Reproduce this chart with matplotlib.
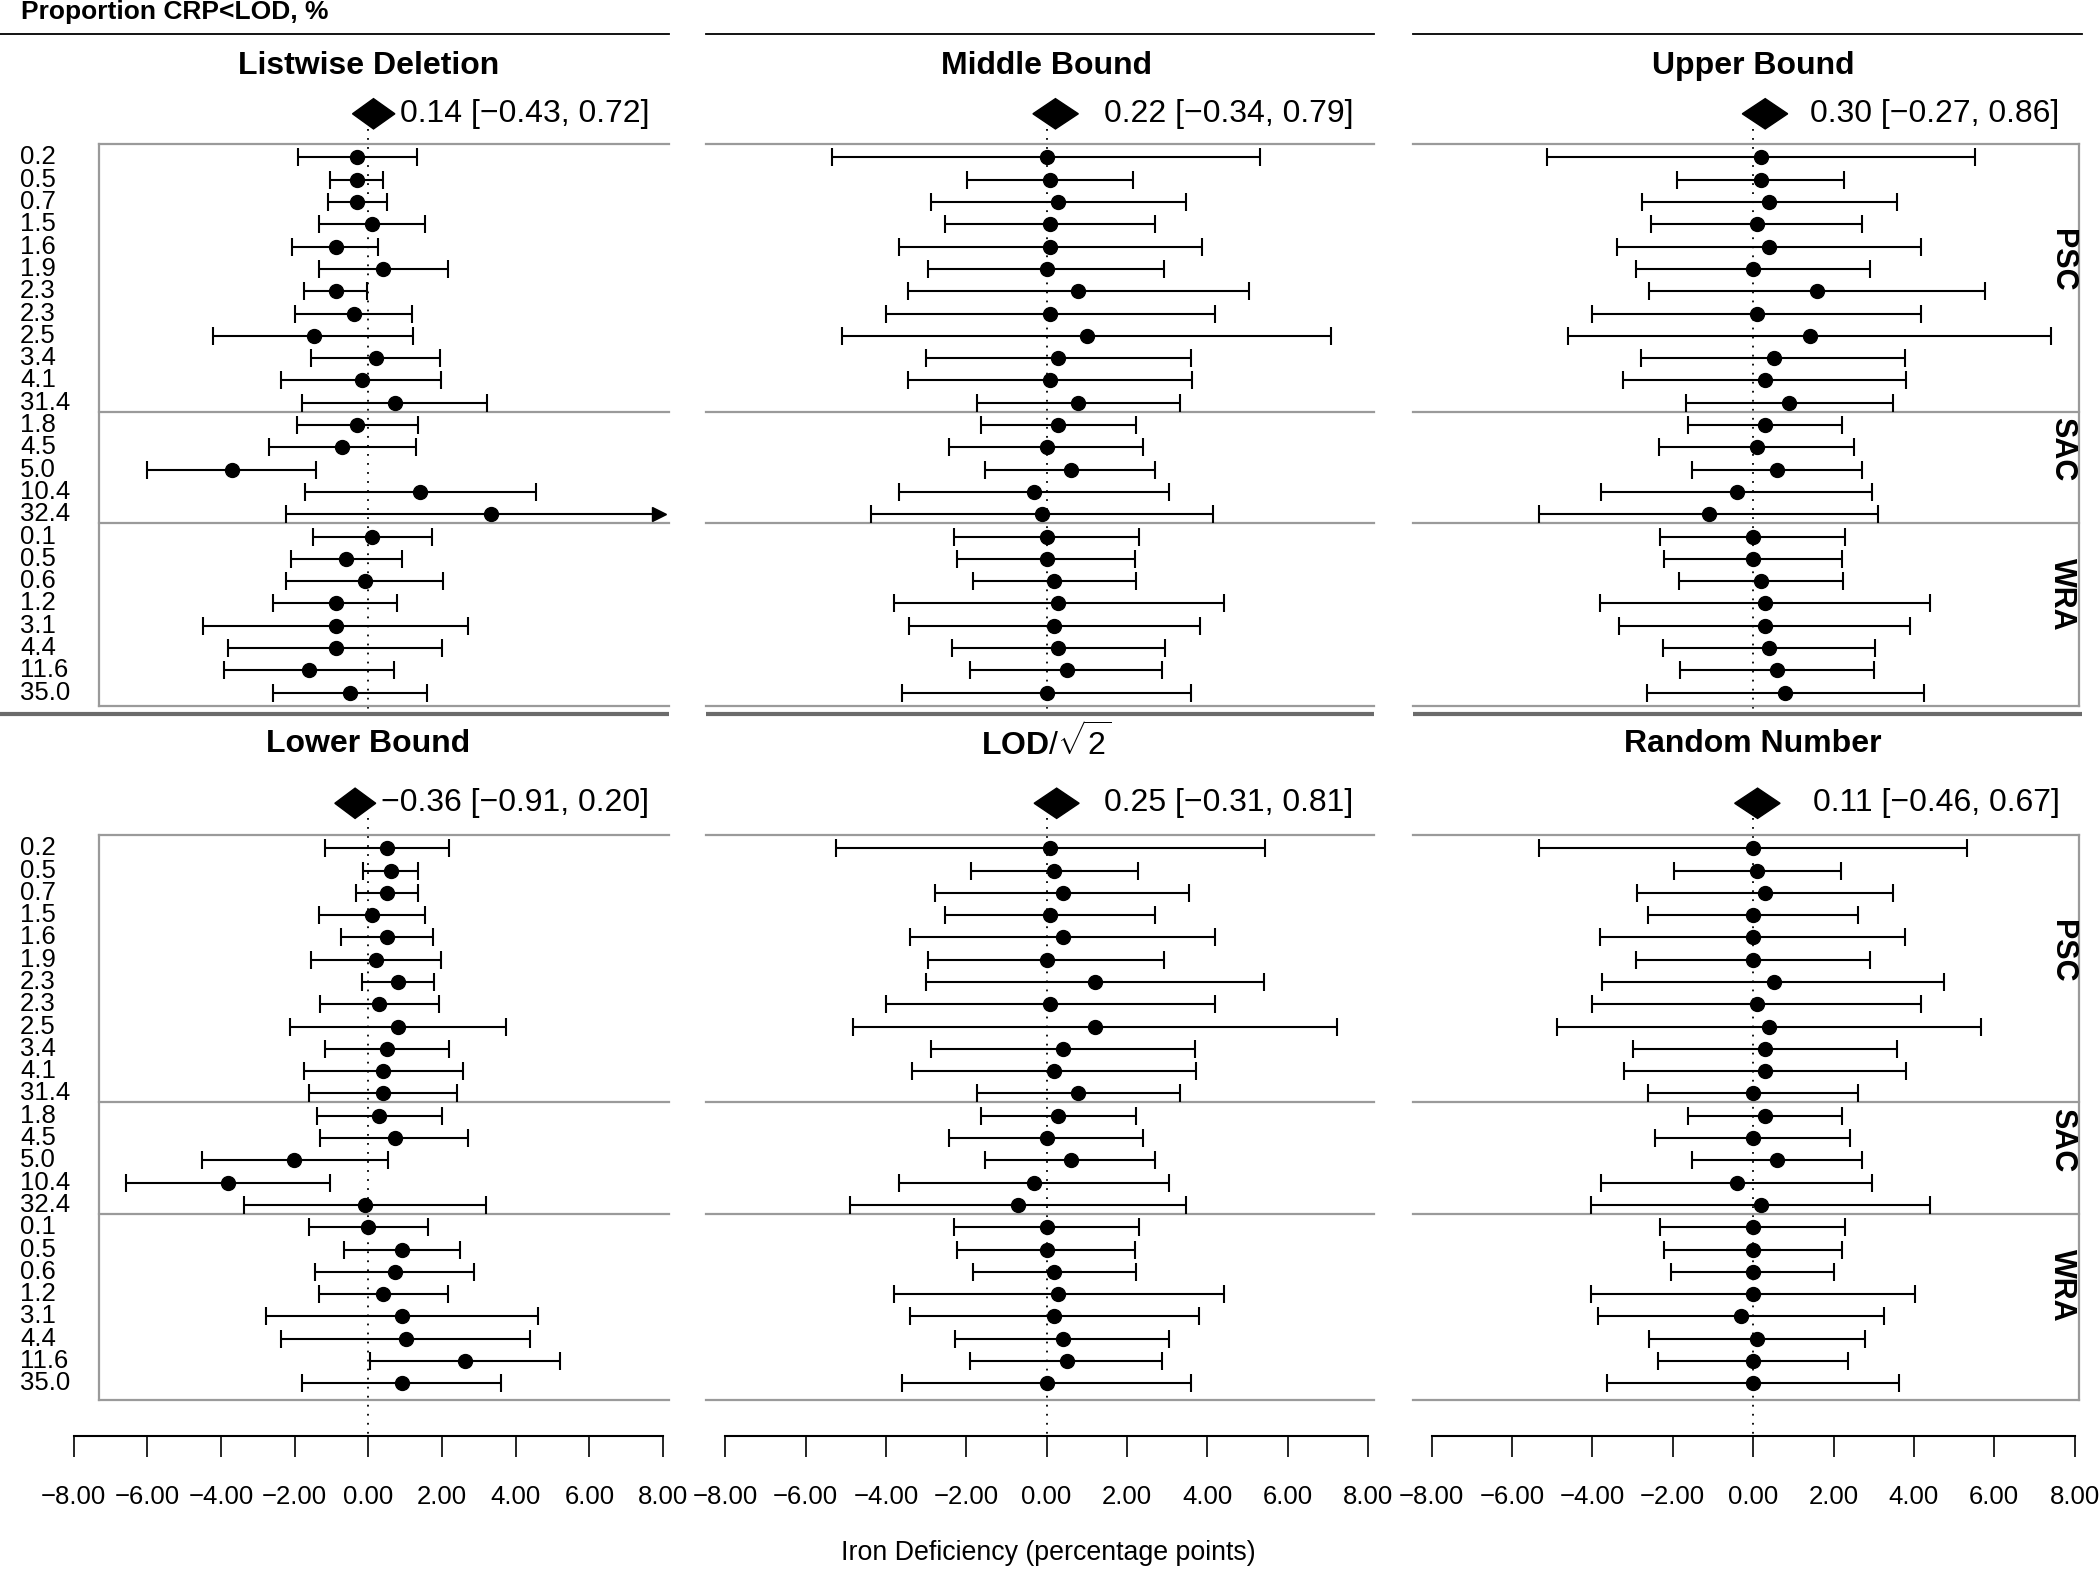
import matplotlib.pyplot as plt
from matplotlib.patches import Polygon
import numpy as np

plt.rcParams['font.family'] = ['Liberation Sans', 'DejaVu Sans']
plt.rcParams['mathtext.fontset'] = 'custom'
plt.rcParams['mathtext.rm'] = 'Liberation Sans'
plt.rcParams['mathtext.bf'] = 'Liberation Sans:bold'
plt.rcParams['mathtext.it'] = 'Liberation Sans:italic'

# ---- data ----
row_labels = ["0.2", "0.5", "0.7", "1.5", "1.6", "1.9", "2.3", "2.3", "2.5", "3.4", "4.1", "31.4",
              "1.8", "4.5", "5.0", "10.4", "32.4",
              "0.1", "0.5", "0.6", "1.2", "3.1", "4.4", "11.6", "35.0"]
groups = ["PSC", "SAC", "WRA"]
group_sizes = [12, 5, 8]

titles = ["Listwise Deletion", "Middle Bound", "Upper Bound",
          "Lower Bound", r"$\mathbf{LOD}/\sqrt{2}$", "Random Number"]

summary_est = [0.14, 0.22, 0.30, -0.36, 0.25, 0.11]
summary_lo = [-0.43, -0.34, -0.27, -0.91, -0.31, -0.46]
summary_hi = [0.72, 0.79, 0.86, 0.20, 0.81, 0.67]

listwise_est = [-0.30, -0.30, -0.30, 0.11, -0.89, 0.40, -0.89, -0.40, -1.48, 0.22, -0.18, 0.71,
                -0.30, -0.71, -3.71, 1.40, 3.32,
                0.10, -0.60, -0.09, -0.89, -0.89, -0.89, -1.61, -0.49]
listwise_lo = [-1.91, -1.03, -1.09, -1.35, -2.07, -1.35, -1.75, -2.00, -4.22, -1.55, -2.36, -1.80,
               -1.95, -2.70, -6.02, -1.72, -2.24,
               -1.51, -2.10, -2.23, -2.59, -4.49, -3.80, -3.91, -2.60]
listwise_hi = [1.31, 0.41, 0.51, 1.55, 0.27, 2.15, -0.05, 1.19, 1.22, 1.95, 1.97, 3.22,
               1.35, 1.29, -1.42, 4.54, 8.90,
               1.72, 0.91, 2.03, 0.78, 2.70, 2.00, 0.69, 1.59]

middle_est = [0.00, 0.09, 0.29, 0.09, 0.09, 0.00, 0.79, 0.09, 1.00, 0.29, 0.09, 0.79,
              0.29, 0.00, 0.60, -0.32, -0.11,
              0.00, 0.00, 0.19, 0.29, 0.19, 0.29, 0.50, 0.00]
middle_lo = [-5.33, -1.99, -2.87, -2.52, -3.68, -2.94, -3.44, -3.99, -5.10, -3.00, -3.45, -1.74,
             -1.63, -2.43, -1.53, -3.68, -4.36,
             -2.31, -2.22, -1.84, -3.81, -3.43, -2.36, -1.90, -3.61]
middle_hi = [5.31, 2.16, 3.47, 2.70, 3.87, 2.92, 5.03, 4.19, 7.09, 3.59, 3.63, 3.31,
             2.22, 2.41, 2.70, 3.05, 4.14,
             2.29, 2.19, 2.22, 4.41, 3.81, 2.95, 2.88, 3.59]

upper_est = [0.20, 0.20, 0.39, 0.09, 0.39, 0.00, 1.60, 0.09, 1.41, 0.51, 0.29, 0.90,
             0.29, 0.09, 0.60, -0.40, -1.10,
             0.00, 0.00, 0.20, 0.29, 0.29, 0.39, 0.60, 0.80]
upper_lo = [-5.14, -1.89, -2.77, -2.53, -3.40, -2.92, -2.58, -4.00, -4.62, -2.80, -3.23, -1.68,
            -1.63, -2.34, -1.52, -3.78, -5.34,
            -2.31, -2.22, -1.84, -3.82, -3.33, -2.25, -1.82, -2.65]
upper_hi = [5.53, 2.27, 3.57, 2.72, 4.18, 2.92, 5.77, 4.18, 7.42, 3.79, 3.81, 3.49,
            2.22, 2.52, 2.72, 2.96, 3.10,
            2.28, 2.20, 2.23, 4.41, 3.91, 3.04, 3.00, 4.25]

lower_est = [0.51, 0.61, 0.51, 0.10, 0.51, 0.21, 0.80, 0.30, 0.80, 0.51, 0.40, 0.40,
             0.30, 0.71, -2.01, -3.81, -0.10,
             0.00, 0.91, 0.71, 0.40, 0.91, 1.01, 2.62, 0.91]
lower_lo = [-1.18, -0.15, -0.33, -1.34, -0.74, -1.55, -0.18, -1.30, -2.13, -1.18, -1.74, -1.61,
            -1.39, -1.30, -4.53, -6.57, -3.38,
            -1.61, -0.67, -1.44, -1.34, -2.77, -2.36, 0.04, -1.79]
lower_hi = [2.19, 1.35, 1.34, 1.53, 1.75, 1.96, 1.79, 1.91, 3.75, 2.20, 2.57, 2.41,
            2.00, 2.71, 0.52, -1.05, 3.20,
            1.61, 2.48, 2.86, 2.15, 4.60, 4.39, 5.21, 3.61]

lodsqrt2_est = [0.08, 0.19, 0.40, 0.09, 0.40, 0.00, 1.20, 0.09, 1.20, 0.40, 0.19, 0.79,
                0.29, 0.00, 0.60, -0.32, -0.71,
                0.00, 0.00, 0.19, 0.29, 0.19, 0.40, 0.50, 0.00]
lodsqrt2_lo = [-5.24, -1.89, -2.77, -2.52, -3.39, -2.94, -3.00, -3.99, -4.83, -2.88, -3.34, -1.74,
               -1.63, -2.43, -1.53, -3.68, -4.89,
               -2.31, -2.22, -1.84, -3.81, -3.41, -2.27, -1.90, -3.61]
lodsqrt2_hi = [5.43, 2.27, 3.55, 2.70, 4.19, 2.92, 5.40, 4.19, 7.22, 3.69, 3.72, 3.31,
               2.22, 2.41, 2.70, 3.05, 3.47,
               2.29, 2.19, 2.22, 4.41, 3.79, 3.05, 2.88, 3.59]

random_est = [0.00, 0.09, 0.29, 0.00, 0.00, 0.00, 0.51, 0.09, 0.39, 0.29, 0.29, 0.00,
              0.29, 0.00, 0.60, -0.40, 0.20,
              0.00, 0.00, 0.00, 0.00, -0.31, 0.09, 0.00, 0.00]
random_lo = [-5.33, -1.98, -2.89, -2.62, -3.80, -2.92, -3.75, -4.00, -4.88, -3.00, -3.22, -2.62,
             -1.63, -2.44, -1.52, -3.78, -4.03,
             -2.31, -2.22, -2.05, -4.04, -3.87, -2.60, -2.38, -3.63]
random_hi = [5.32, 2.18, 3.48, 2.61, 3.79, 2.92, 4.74, 4.18, 5.67, 3.59, 3.81, 2.61,
             2.22, 2.42, 2.72, 2.96, 4.41,
             2.28, 2.20, 2.02, 4.03, 3.25, 2.79, 2.37, 3.62]

panel_est = [listwise_est, middle_est, upper_est, lower_est, lodsqrt2_est, random_est]
panel_lo = [listwise_lo, middle_lo, upper_lo, lower_lo, lodsqrt2_lo, random_lo]
panel_hi = [listwise_hi, middle_hi, upper_hi, lower_hi, lodsqrt2_hi, random_hi]

# ---- layout (pixels) ----
W, H = 2100, 1569
XMIN, XMAX = -8, 8
col_px = [(73.7, 663.0), (725.2, 1368.0), (1431.7, 2074.6)]   # pixel of x=-8 and x=8
rule_left = [-10.0, -8.47, -8.47]
rule_right = [8.17, 8.15, 8.18]
box_left = [-7.31, -8.47, -8.47]
box_right = [8.17, 8.15, 8.10]
# per block: axes top px, axes bottom px, row-0 px, row spacing px, title row, diamond row, box bottom
blocks = [(20, 714, 157.5, 22.3, -4.12, -1.96, 24.6),
          (714, 1436, 848.3, 22.29, -4.7, -2.02, 24.75)]

GREY = '#9a9a9a'
fig = plt.figure(figsize=(21, 15.69), dpi=100)

seps = np.cumsum(group_sizes)[:-1] - 0.6
starts = np.concatenate([[0], np.cumsum(group_sizes)[:-1]])
strip_pos = starts + (np.array(group_sizes) - 1) / 2 - 0.9
rows = np.arange(len(row_labels))

for k in range(6):
    b, c = divmod(k, 3)
    ytop, ybot, row0, dy, title_row, dia_row, box_bot = blocks[b]
    x0, x1 = col_px[c]
    ax = fig.add_axes([x0 / W, 1 - ybot / H, (x1 - x0) / W, (ybot - ytop) / H])
    ax.patch.set_visible(False)
    ax.set_xlim(XMIN, XMAX)
    bottom_row = (ybot - row0) / dy
    ax.set_ylim(bottom_row, (ytop - row0) / dy)

    ax.text(0, title_row, titles[k], ha='center', va='center', fontsize=23, fontweight='bold')

    if b == 0:
        ax.plot([rule_left[c], rule_right[c]], [-5.52, -5.52], color='black', lw=1.3, clip_on=False)
        ax.plot([rule_left[c], rule_right[c]], [bottom_row, bottom_row], color='#6b6b6b', lw=3,
                clip_on=False, solid_capstyle='butt', zorder=5)

    # summary diamond
    est, lo, hi = summary_est[k], summary_lo[k], summary_hi[k]
    hh = 0.68
    ax.add_patch(Polygon([[lo, dia_row], [est, dia_row - hh], [hi, dia_row], [est, dia_row + hh]],
                         closed=True, fc='black', ec='black', clip_on=False))
    txt = f"{est:.2f} [{lo:.2f}, {hi:.2f}]".replace('-', '\u2212')
    ax.text(7.63, dia_row, txt, ha='right', va='center', fontsize=23)

    ax.plot([0, 0], [dia_row + hh, bottom_row], color='black', lw=1.3,
            linestyle=(0, (1, 4)), clip_on=False)

    # box and group separators
    for yy in [-0.6, *seps, box_bot]:
        ax.plot([box_left[c], box_right[c]], [yy, yy], color=GREY, lw=1.6, clip_on=False)
    if c == 0:
        ax.plot([box_left[c]] * 2, [-0.6, box_bot], color=GREY, lw=1.6, clip_on=False)
    if c == 2:
        ax.plot([box_right[c]] * 2, [-0.6, box_bot], color=GREY, lw=1.6, clip_on=False)

    # study estimates
    e = np.array(panel_est[k])
    l = np.array(panel_lo[k])
    h = np.array(panel_hi[k])
    hc = np.minimum(h, XMAX)
    ax.hlines(rows, l, hc, color='black', lw=1.5, clip_on=False)
    ax.plot(l, rows, ls='none', marker='|', ms=12.5, mew=1.5, color='black', clip_on=False)
    inside = h <= XMAX
    ax.plot(h[inside], rows[inside], ls='none', marker='|', ms=12.5, mew=1.5, color='black',
            clip_on=False)
    if (~inside).any():
        ax.plot(np.full((~inside).sum(), XMAX - 0.12), rows[~inside], ls='none', marker='>',
                ms=10, color='black', clip_on=False)
    ax.plot(e, rows, ls='none', marker='o', ms=10, color='black', clip_on=False)

    if c == 0:
        for r, lab in zip(rows, row_labels):
            ax.text(-9.46, r, lab, ha='left', va='center', fontsize=18.5, clip_on=False)
    if c == 2:
        for g, pos in zip(groups, strip_pos):
            ax.text(7.68, pos, g, ha='center', va='center', rotation=-90, fontsize=22,
                    fontweight='bold')

    for s in ['top', 'left', 'right']:
        ax.spines[s].set_visible(False)
    ax.set_yticks([])
    if b == 0:
        ax.spines['bottom'].set_visible(False)
        ax.set_xticks([])
    else:
        ax.spines['bottom'].set_linewidth(1.5)
        ticks = np.arange(XMIN, XMAX + 1, 2)
        ax.set_xticks(ticks)
        ax.set_xticklabels([f"{t:.2f}".replace('-', '\u2212') for t in ticks])
        ax.tick_params(axis='x', length=15, width=1.2, pad=20, labelsize=18.5, direction='out')

fig.text(21 / W, 1 - 11.5 / H, "Proportion CRP<LOD, %", ha='left', va='center',
         fontsize=19, fontweight='bold')
fig.text(1048 / W, 1 - 1553 / H, "Iron Deficiency (percentage points)", ha='center',
         va='center', fontsize=19.3)

fig.savefig("out.png", dpi=100)
